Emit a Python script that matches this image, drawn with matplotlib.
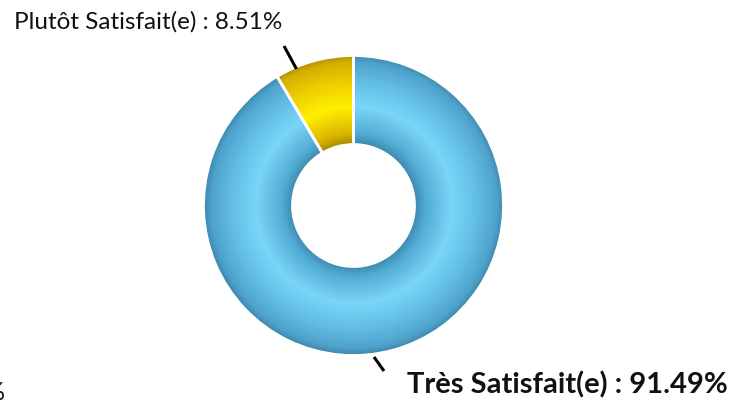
import numpy as np
import matplotlib
matplotlib.use("Agg")
import matplotlib.pyplot as plt
from matplotlib.colors import LinearSegmentedColormap

labels = ["Plutôt Satisfait(e)", "Très Satisfait(e)"]
values = [8.51, 91.49]

W, H = 747, 405
fig = plt.figure(figsize=(W / 100, H / 100), dpi=100)
ax = fig.add_axes([0, 0, 1, 1])

cx, cy = 353.5, H - 205.5
R_out, R_in = 150, 61

wedges, _ = ax.pie(values, startangle=90, counterclock=True, radius=R_out,
                   center=(cx, cy),
                   wedgeprops=dict(width=R_out - R_in, edgecolor="white", linewidth=2.0),
                   colors=["#f5d000", "#62c0e8"])
ax.set_xlim(0, W)
ax.set_ylim(0, H)
ax.set_aspect("equal")
ax.axis("off")

# radial shading
xs = np.linspace(cx - R_out, cx + R_out, 600)
ys = np.linspace(cy - R_out, cy + R_out, 600)
X, Y = np.meshgrid(xs, ys)
Rr = np.hypot(X - cx, Y - cy)
shade = np.clip((Rr - R_in) / (R_out - R_in), 0, 1)

blue = LinearSegmentedColormap.from_list("b", [
    (0.0, "#3c88ae"), (0.12, "#52abd4"), (0.42, "#7ad6f8"),
    (0.68, "#64bfe7"), (0.92, "#4fa3cc"), (1.0, "#3e88ae")])
yellow = LinearSegmentedColormap.from_list("y", [
    (0.0, "#a88a00"), (0.12, "#d8b400"), (0.42, "#fff000"),
    (0.68, "#f0d000"), (0.92, "#d4b000"), (1.0, "#b09000")])

for w, cmap in zip(wedges, [yellow, blue]):
    im = ax.imshow(shade, cmap=cmap, vmin=0, vmax=1, origin="lower",
                   extent=(xs[0], xs[-1], ys[0], ys[-1]), interpolation="bilinear",
                   zorder=w.get_zorder() + 0.1)
    im.set_clip_path(w)
    w.set_facecolor("none")
    w.set_zorder(w.get_zorder() + 0.2)

# leader lines
ax.plot([284, 296.5], [H - 46, H - 69], color="black", lw=2.2, solid_capstyle="butt")
ax.plot([374, 384], [H - 357, H - 371], color="black", lw=2.2, solid_capstyle="butt")

font = ["Lato", "DejaVu Sans"]
ax.text(14, H - 22, f"{labels[0]} : {values[0]:.2f}%", fontsize=17.5, family=font,
        ha="left", va="center", color="#111111")
ax.text(728, H - 385, f"{labels[1]} : {values[1]:.2f}%", fontsize=21, family=font,
        fontweight="bold", ha="right", va="center", color="#111111")
ax.text(5, H - 393, "%", fontsize=18, family=font,
        ha="right", va="center", color="#111111")

fig.savefig("out.png", dpi=100)
